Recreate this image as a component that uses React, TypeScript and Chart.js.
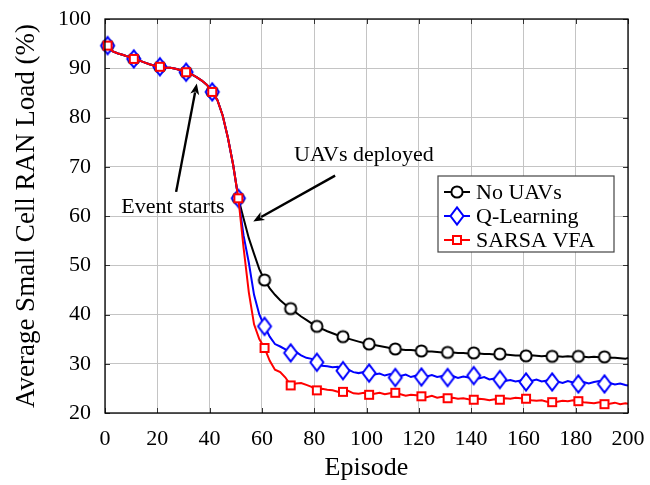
import React, { useEffect, useRef } from 'react';
import { Chart, registerables } from 'chart.js';

Chart.register(...registerables);

// Episodes sampled (odd episodes + last)
const episodes = [
  1, 3, 5, 7, 9, 11, 13, 15, 17, 19, 21, 23, 25, 27, 29, 31, 33, 35, 37, 39, 41, 43, 45, 47, 49, 51,
  53, 55, 57, 59, 61, 63, 65, 67, 69, 71, 73, 75, 77, 79, 81, 83, 85, 87, 89, 91,
  93, 95, 97, 99, 101, 103, 105, 107, 109, 111, 113, 115, 117, 119, 121, 123, 125, 127, 129, 131,
  133, 135, 137, 139, 141, 143, 145, 147, 149, 151, 153, 155, 157, 159, 161, 163, 165, 167, 169, 171,
  173, 175, 177, 179, 181, 183, 185, 187, 189, 191, 193, 195, 197, 199, 200,
];

const markerEpisodes = [1, 11, 21, 31, 41, 51, 61, 71, 81, 91, 101, 111, 121, 131, 141, 151, 161, 171, 181, 191];

// Shared part before the UAVs are deployed (episodes 1..51)
const sharedStart = [
  94.6, 93.4, 93.0, 92.7, 92.3, 91.9, 91.6, 91.2, 90.8, 90.5, 90.3, 90.1, 90.1, 89.9, 89.6, 89.2,
  88.8, 88.2, 87.5, 86.6, 85.2, 83.5, 80.4, 75.9, 70.4, 63.6,
];

// Episodes 53..199 and 200
const noUavTail = [
  59.5, 55.5, 52.3, 49.2, 47.0, 45.3, 44.0, 42.9, 42.0, 41.2,
  40.4, 39.6, 38.9, 38.2, 37.6, 37.1, 36.6, 36.2, 35.8, 35.5,
  35.1, 34.8, 34.5, 34.2, 34.0, 33.8, 33.6, 33.4, 33.2, 33.0,
  32.9, 32.8, 32.8, 32.7, 32.6, 32.5, 32.5, 32.4, 32.3, 32.3,
  32.3, 32.2, 32.2, 32.1, 32.2, 32.1, 32.0, 32.0, 31.9, 32.0,
  31.9, 31.8, 31.7, 31.7, 31.6, 31.7, 31.6, 31.5, 31.6, 31.5,
  31.5, 31.4, 31.5, 31.4, 31.5, 31.4, 31.3, 31.4, 31.3, 31.4,
  31.2, 31.2, 31.1, 31.0,
  31.2,
];

const qLearningTail = [
  56.0, 50.5, 44.0, 40.0, 37.6, 35.5, 34.0, 33.5, 32.9, 32.2,
  32.4, 31.7, 31.2, 31.0, 30.3, 29.6, 29.5, 29.3, 29.4, 28.6,
  28.8, 28.3, 28.1, 28.3, 28.1, 27.8, 28.0, 27.6, 27.9, 27.2,
  27.5, 27.8, 27.3, 27.6, 27.3, 27.4, 27.7, 27.3, 27.5, 27.2,
  27.5, 27.1, 27.4, 27.2, 27.6, 27.0, 27.3, 26.8, 27.0, 26.8,
  26.5, 26.7, 26.4, 26.6, 26.3, 26.5, 26.8, 26.4, 26.6, 26.3,
  26.4, 26.1, 26.5, 26.2, 25.9, 26.3, 26.0, 26.3, 26.5, 25.9,
  26.1, 25.8, 26.0, 25.7,
  25.6,
];

const sarsaTail = [
  53.5, 44.5, 38.0, 35.0, 33.2, 30.6, 28.8, 28.3, 27.2, 25.6,
  26.0, 26.1, 25.7, 25.3, 24.6, 24.9, 24.7, 24.6, 24.3, 24.3,
  24.5, 24.0, 23.9, 24.1, 23.7, 23.9, 24.1, 23.8, 24.0, 24.1,
  23.8, 23.5, 23.7, 23.6, 23.4, 23.2, 23.5, 23.1, 23.3, 23.0,
  23.1, 22.9, 23.0, 22.8, 22.7, 22.9, 22.8, 22.6, 22.8, 22.7,
  23.0, 22.9, 23.1, 23.0, 22.9, 22.6, 22.5, 22.6, 22.3, 22.2,
  22.3, 22.5, 22.4, 22.6, 22.4, 22.2, 22.1, 22.0, 22.2, 21.8,
  21.9, 22.1, 21.8, 22.0,
  21.9,
];

const seriesNames = ['No UAVs', 'Q-Learning', 'SARSA VFA'];
const seriesColors = ['#000000', '#0000ff', '#ff0000'];
const seriesValues = [
  [...sharedStart, ...noUavTail],
  [...sharedStart, ...qLearningTail],
  [...sharedStart, ...sarsaTail],
];

const xTicks = [0, 20, 40, 60, 80, 100, 120, 140, 160, 180, 200];
const yTicks = [20, 30, 40, 50, 60, 70, 80, 90, 100];

// Annotations in data coordinates: [episode, load]
const annotations = [
  { text: 'Event starts', textAt: [26, 61.8], tail: [27.2, 64.9], tip: [35.1, 86.9] },
  { text: 'UAVs deployed', textAt: [99, 72.3], tail: [88, 68.2], tip: [56.7, 58.9] },
];

const FONT = '"Liberation Serif", "DejaVu Serif", serif';

function makeMarker(kind: string): HTMLCanvasElement {
  const c = document.createElement('canvas');
  const ctx = c.getContext('2d')!;
  if (kind === 'circle') {
    c.width = 16; c.height = 16;
    ctx.beginPath();
    ctx.arc(8, 8, 5.6, 0, Math.PI * 2);
    ctx.fillStyle = '#fff'; ctx.fill();
    ctx.lineWidth = 2; ctx.strokeStyle = '#000'; ctx.stroke();
  } else if (kind === 'diamond') {
    c.width = 20; c.height = 24;
    ctx.beginPath();
    ctx.moveTo(10, 3.3); ctx.lineTo(16.5, 12); ctx.lineTo(10, 20.7); ctx.lineTo(3.5, 12); ctx.closePath();
    ctx.fillStyle = '#fff'; ctx.fill();
    ctx.lineWidth = 2; ctx.strokeStyle = '#0000ff'; ctx.stroke();
  } else {
    c.width = 14; c.height = 14;
    ctx.beginPath();
    ctx.rect(3, 3, 8, 8);
    ctx.fillStyle = '#fff'; ctx.fill();
    ctx.lineWidth = 2; ctx.strokeStyle = '#ff0000'; ctx.stroke();
  }
  return c;
}

function zeroPad(s: any) {
  s.paddingTop = 0;
  s.paddingBottom = 0;
  s.paddingLeft = 0;
  s.paddingRight = 0;
}

export default function App() {
  const ref = useRef<HTMLCanvasElement | null>(null);

  useEffect(() => {
    document.body.style.margin = '0';
    const canvas = ref.current!;
    const markers = [makeMarker('circle'), makeMarker('diamond'), makeMarker('square')];

    const overlay = {
      id: 'overlay',
      afterDraw(chart: any) {
        const ctx = chart.ctx as CanvasRenderingContext2D;
        const { left, right, top, bottom } = chart.chartArea;
        const xs = chart.scales.x;
        const ys = chart.scales.y;
        ctx.save();
        // inward ticks
        ctx.strokeStyle = '#333';
        ctx.lineWidth = 1;
        ctx.beginPath();
        xTicks.forEach((t) => {
          const px = Math.round(xs.getPixelForValue(t)) + 0.5;
          ctx.moveTo(px, bottom); ctx.lineTo(px, bottom - 5);
          ctx.moveTo(px, top); ctx.lineTo(px, top + 5);
        });
        yTicks.forEach((t) => {
          const py = Math.round(ys.getPixelForValue(t)) + 0.5;
          ctx.moveTo(left, py); ctx.lineTo(left + 5, py);
          ctx.moveTo(right, py); ctx.lineTo(right - 5, py);
        });
        ctx.stroke();
        // frame
        ctx.strokeStyle = '#000';
        ctx.lineWidth = 1.3;
        ctx.strokeRect(left, top, right - left, bottom - top);

        // annotations
        ctx.fillStyle = '#000';
        ctx.strokeStyle = '#000';
        ctx.font = `22px ${FONT}`;
        ctx.textAlign = 'center';
        ctx.textBaseline = 'middle';
        annotations.forEach((a) => {
          ctx.fillText(a.text, xs.getPixelForValue(a.textAt[0]), ys.getPixelForValue(a.textAt[1]));
          const x0 = xs.getPixelForValue(a.tail[0]);
          const y0 = ys.getPixelForValue(a.tail[1]);
          const x1 = xs.getPixelForValue(a.tip[0]);
          const y1 = ys.getPixelForValue(a.tip[1]);
          const ang = Math.atan2(y1 - y0, x1 - x0);
          const hl = 11;
          const hw = 4.5;
          const bx = x1 - hl * Math.cos(ang);
          const by = y1 - hl * Math.sin(ang);
          ctx.lineWidth = 2.4;
          ctx.beginPath();
          ctx.moveTo(x0, y0);
          ctx.lineTo(bx + 2 * Math.cos(ang), by + 2 * Math.sin(ang));
          ctx.stroke();
          ctx.beginPath();
          ctx.moveTo(x1, y1);
          ctx.lineTo(bx + hw * Math.sin(ang), by - hw * Math.cos(ang));
          ctx.lineTo(bx + 3 * Math.cos(ang), by + 3 * Math.sin(ang));
          ctx.lineTo(bx - hw * Math.sin(ang), by + hw * Math.cos(ang));
          ctx.closePath();
          ctx.fill();
        });

        // legend
        const lx = right - 190;
        const ly = top + 157;
        const lw = 176;
        const lh = 76;
        ctx.fillStyle = '#fff';
        ctx.fillRect(lx, ly, lw, lh);
        ctx.strokeStyle = '#444';
        ctx.lineWidth = 1.2;
        ctx.strokeRect(lx, ly, lw, lh);
        const rowY = [ly + 16, ly + 40, ly + 64];
        seriesNames.forEach((name, i) => {
          const y = rowY[i];
          ctx.strokeStyle = seriesColors[i];
          ctx.lineWidth = 2;
          ctx.beginPath();
          ctx.moveTo(lx + 6, y); ctx.lineTo(lx + 32, y);
          ctx.stroke();
          const m = markers[i];
          ctx.drawImage(m, lx + 19 - m.width / 2, y - m.height / 2);
          ctx.fillStyle = '#000';
          ctx.font = `22px ${FONT}`;
          ctx.textAlign = 'left';
          ctx.textBaseline = 'middle';
          ctx.fillText(name, lx + 38, y + 1);
        });
        ctx.restore();
      },
    };

    const datasets = seriesNames.map((name, i) => ({
      label: name,
      data: episodes.map((e, k) => ({ x: e, y: seriesValues[i][k] })),
      borderColor: seriesColors[i],
      backgroundColor: seriesColors[i],
      borderWidth: 2,
      tension: 0,
      fill: false,
      pointStyle: markers[i],
      pointRadius: (c: any) => (c.raw && markerEpisodes.includes(c.raw.x) ? 7 : 0),
      pointHoverRadius: 0,
      clip: false as any,
      order: 3 - i,
    }));

    const chart = new Chart(canvas, {
      type: 'line',
      data: { datasets: datasets as any },
      options: {
        animation: false,
        responsive: false,
        events: [],
        layout: { padding: { left: 0, right: 22, top: 19, bottom: 0 } },
        plugins: { legend: { display: false }, tooltip: { enabled: false } },
        scales: {
          x: {
            type: 'linear',
            min: 0,
            max: 200,
            afterBuildTicks: (s: any) => { s.ticks = xTicks.map((v) => ({ value: v })); },
            afterFit: (s: any) => { s.height = 72; zeroPad(s); },
            ticks: { color: '#000', font: { family: FONT, size: 22 }, padding: 13, maxRotation: 0, autoSkip: false },
            grid: { color: '#c4c4c4', lineWidth: 1, drawTicks: false },
            border: { display: false },
            title: { display: true, text: 'Episode', color: '#000', font: { family: FONT, size: 26 }, padding: { top: 0, bottom: 1 } },
          },
          y: {
            type: 'linear',
            min: 20,
            max: 100,
            afterBuildTicks: (s: any) => { s.ticks = yTicks.map((v) => ({ value: v })); },
            afterFit: (s: any) => { s.width = 105; zeroPad(s); },
            ticks: { color: '#000', font: { family: FONT, size: 22 }, padding: 14, autoSkip: false },
            grid: { color: '#c4c4c4', lineWidth: 1, drawTicks: false },
            border: { display: false },
            title: { display: true, text: 'Average Small Cell RAN Load (%)', color: '#000', font: { family: FONT, size: 27 }, padding: { top: 11, bottom: 0 } },
          },
        },
      },
      plugins: [overlay],
    });

    return () => chart.destroy();
  }, []);

  return <canvas ref={ref} width={650} height={485} style={{ display: 'block', width: 650, height: 485 }} />;
}
